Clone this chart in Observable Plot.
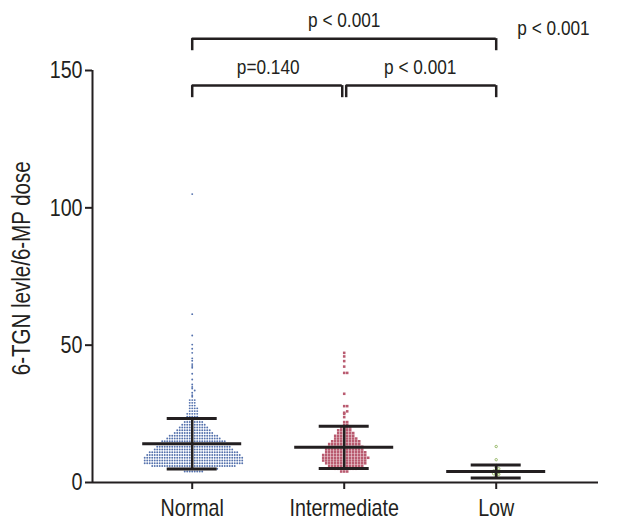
<!DOCTYPE html>
<html>
<head>
<meta charset="utf-8">
<script src="https://cdn.jsdelivr.net/npm/d3@7"></script>
<script src="https://cdn.jsdelivr.net/npm/@observablehq/plot@0.6"></script>
<style>
  html, body { margin: 0; padding: 0; background: #fff; }
  #chart svg { display: block; }
</style>
</head>
<body>
<div id="chart"></div>
<script>
// ---- Data ----
const groups = ["Normal", "Intermediate", "Low"];

// Normal group: rows of the dot plot (value of row, number of dots in row)
const normalRowValues = [4, 5, 6, 7, 8, 9, 10, 11, 12, 13, 14, 15, 16, 17, 18, 19, 20, 21, 22, 23, 24, 25, 26, 27, 28, 29, 30];
const normalRowCounts = [8, 20, 34, 40, 40, 40, 38, 36, 32, 30, 28, 26, 22, 20, 16, 14, 12, 10, 8, 6, 5, 5, 4, 4, 3, 3, 3];
const normalSingles = [105, 61.3, 53.5, 50.2, 48.7, 47.2, 45.2, 44.3, 43.1, 42.4, 41.8, 39.6, 37.5, 35.7, 34.8, 34.2, 33.5, 32.7, 31.8, 31.2];

// Intermediate group
const interRowValues = [4, 5, 6, 7, 8, 9, 10, 11, 12, 13, 14, 15, 16, 17, 18, 19, 20, 21, 22];
const interRowCounts = [3, 8, 12, 14, 15, 16, 15, 14, 13, 12, 11, 10, 8, 7, 6, 5, 4, 2, 2];
const interSingles = [47.2, 45.9, 44.2, 42.2, 39.9, 39.9, 32.3, 27.8, 27.8, 25.9, 25.4, 25.0, 23.8];

// Low group
const lowValues = [13.1, 8.3, 6.2, 5.5, 5.0, 4.6, 4.2, 3.8, 3.5, 3.2, 3.0, 2.6, 2.2];

// Mean and SD bars
const groupMeans = [14.1, 12.8, 4.0];
const groupSDs = [9.2, 7.7, 2.4];

// Pairwise comparison labels
const comparisons = [
  {from: 0, to: 2, label: "p < 0.001"},
  {from: 0, to: 1, label: "p=0.140"},
  {from: 1, to: 2, label: "p < 0.001"}
];
const overallLabel = "p < 0.001";
const yLabel = "6-TGN levle/6-MP dose";
const yTicks = [0, 50, 100, 150];

// ---- Build tables ----
function expand(rowValues, rowCounts, singles) {
  const out = [];
  rowValues.forEach((v, i) => { for (let k = 0; k < rowCounts[i]; k++) out.push(v); });
  return out.concat(singles);
}
const groupValues = [
  expand(normalRowValues, normalRowCounts, normalSingles),
  expand(interRowValues, interRowCounts, interSingles),
  lowValues
];

const W = 623, H = 528;
const mL = 92, mR = 25, mT = 70, mB = 46;
const xDomain = [-0.656, 2.673];
const pxPerUnitX = (W - mL - mR) / (xDomain[1] - xDomain[0]);
const pxPerUnitY = (H - mT - mB) / 150;
const px = p => p / pxPerUnitX;   // pixel width -> x units
const py = p => p / pxPerUnitY;   // pixel height -> y units

// swarm layout: dots sharing a row are spread left/right of the group centre
const spacing = [2.5, 3.0, 2.6];
const points = [];
groupValues.forEach((vals, g) => {
  const rows = d3.group(vals, v => Math.round(v * pxPerUnitY / 2.6));
  for (const [, rv] of rows) {
    rv.sort(d3.ascending).forEach((v, k) => {
      const step = Math.ceil(k / 2) * (k % 2 ? 1 : -1);
      points.push({group: g, value: v, x: g + px(step * spacing[g])});
    });
  }
});

const stats = groups.map((name, i) => ({i, mean: groupMeans[i], lo: groupMeans[i] - groupSDs[i], hi: groupMeans[i] + groupSDs[i]}));

const colors = ["#5572ad", "#b95b70", "#8fb35c"];
const FONT = "'Liberation Sans', Arial, sans-serif";

// bracket geometry (in data units)
const topLevel = 161.6, lowLevel = 144.5, drop = 4.4;
const gap = 0.013;
const brackets = comparisons.map(c => {
  const level = (c.to - c.from === 2) ? topLevel : lowLevel;
  return {...c, level,
    x1: c.from + (c.from === 1 ? gap : 0),
    x2: c.to - (c.to === 1 ? gap : 0)};
});

const x0 = xDomain[0];
const ink = "#231f20";
const chart = Plot.plot({
  width: W, height: H,
  marginLeft: mL, marginRight: mR, marginTop: mT, marginBottom: mB,
  style: {fontFamily: FONT, fontSize: "22px", color: ink, background: "#fff"},
  x: {type: "linear", domain: xDomain, axis: null},
  y: {domain: [0, 150], axis: null},
  marks: [
    // axes
    Plot.ruleX([x0], {x: d => d, y1: 0, y2: 150, stroke: ink, strokeWidth: 2}),
    Plot.ruleY([0], {y: d => d, x1: x0, x2: xDomain[1], stroke: ink, strokeWidth: 2}),
    Plot.ruleY(yTicks, {y: d => d, x1: x0 - px(7), x2: x0, stroke: ink, strokeWidth: 2}),
    Plot.text(yTicks, {x: x0, y: d => d, text: d => String(d), dx: -10, textAnchor: "end", fontSize: 24, fill: ink}),
    Plot.ruleX([0, 1, 2], {x: d => d, y1: -py(7), y2: 0, stroke: ink, strokeWidth: 2}),
    Plot.text(groups, {x: (d, i) => i, y: 0, text: d => d, dy: 26, fontSize: 24, fill: ink}),
    Plot.text([yLabel], {x: x0, y: 78, text: d => d, dx: -71, rotate: -90, fontSize: 25, fill: ink}),
    // dots
    Plot.dot(points.filter(d => d.group === 0), {x: "x", y: "value", r: 0.95, fill: colors[0], stroke: null}),
    Plot.dot(points.filter(d => d.group === 1), {x: "x", y: "value", r: 1.45, symbol: "square", fill: colors[1], stroke: null}),
    Plot.dot(points.filter(d => d.group === 2), {x: "x", y: "value", r: 1.2, fill: "none", stroke: colors[2], strokeWidth: 0.9}),
    // mean and SD bars
    Plot.ruleX(stats, {x: "i", y1: "lo", y2: "hi", stroke: ink, strokeWidth: 2.5}),
    Plot.ruleY(stats, {y: "mean", x1: d => d.i - px(49.5), x2: d => d.i + px(49.5), stroke: ink, strokeWidth: 3}),
    Plot.ruleY(stats, {y: "lo", x1: d => d.i - px(25), x2: d => d.i + px(25), stroke: ink, strokeWidth: 3}),
    Plot.ruleY(stats, {y: "hi", x1: d => d.i - px(25), x2: d => d.i + px(25), stroke: ink, strokeWidth: 3}),
    // comparison brackets
    Plot.ruleY(brackets, {y: "level", x1: "x1", x2: "x2", stroke: ink, strokeWidth: 2.5}),
    Plot.ruleX(brackets, {x: "x1", y1: d => d.level - drop, y2: "level", stroke: ink, strokeWidth: 2.5}),
    Plot.ruleX(brackets, {x: "x2", y1: d => d.level - drop, y2: "level", stroke: ink, strokeWidth: 2.5}),
    Plot.text(brackets, {x: d => (d.from + d.to) / 2, y: "level", text: "label", dy: -18, fontSize: 21, fill: ink}),
    Plot.text([overallLabel], {x: 2.377, y: 165.3, text: d => d, fontSize: 21, fill: ink})
  ]
});
document.getElementById("chart").appendChild(chart);

// condensed lettering like the original figure
chart.querySelectorAll("text").forEach(t => {
  const len = t.getComputedTextLength();
  if (len > 0) {
    t.setAttribute("textLength", (len * 0.82).toFixed(1));
    t.setAttribute("lengthAdjust", "spacingAndGlyphs");
  }
});
</script>
</body>
</html>
